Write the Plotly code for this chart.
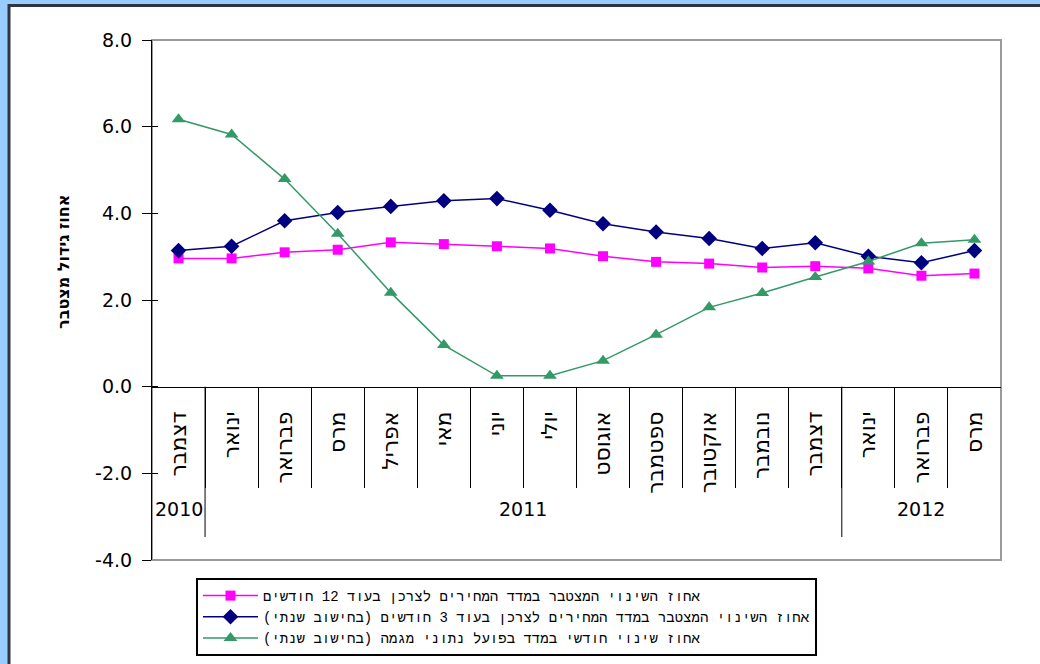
import plotly.graph_objects as go

# Monthly series, December 2010 - March 2012
years = ["2010"] + ["2011"] * 12 + ["2012"] * 3
months = ["דצמבר", "ינואר", "פברואר", "מרס", "אפריל", "מאי", "יוני", "יולי",
          "אוגוסט", "ספטמבר", "אוקטובר", "נובמבר", "דצמבר", "ינואר", "פברואר", "מרס"]

expect_12m = [2.96, 2.96, 3.10, 3.16, 3.33, 3.29, 3.24, 3.19,
              3.01, 2.88, 2.84, 2.75, 2.78, 2.73, 2.56, 2.61]
expect_3m = [3.14, 3.24, 3.83, 4.02, 4.16, 4.29, 4.34, 4.07,
             3.76, 3.57, 3.42, 3.19, 3.32, 3.01, 2.86, 3.14]
actual_monthly = [6.17, 5.82, 4.79, 3.53, 2.17, 0.96, 0.25, 0.25,
                  0.60, 1.20, 1.83, 2.16, 2.53, 2.89, 3.31, 3.39]

series_names = [
    "אחוז השינוי המצטבר במדד המחירים לצרכן בעוד 12 חודשים",
    "אחוז השינוי המצטבר במדד המחירים לצרכן בעוד 3 חודשים (בחישוב שנתי)",
    "אחוז שינוי חודשי במדד בפועל נתוני מגמה (בחישוב שנתי)",
]
y_title = "אחוז גידול מצטבר"
y_ticks = [-4, -2, 0, 2, 4, 6, 8]

# Page geometry (pixels)
W, H = 1040, 664
ML, MR, MT, MB = 152, 39, 40, 104
PW, PH = W - ML - MR, H - MT - MB


def px_x(px):
    return (px - ML) / PW


def px_y(py):
    return (H - MB - py) / PH


FONT = "DejaVu Sans"
LEGEND_FONT = "Liberation Mono, DejaVu Sans"
RLM = "\u200f"

x_idx = list(range(len(months)))
x_range = [-0.5, len(months) - 0.5]

fig = go.Figure()
styles = [
    dict(color="#FF00FF", symbol="square", size=10),
    dict(color="#000080", symbol="diamond", size=12),
    dict(color="#339966", symbol="triangle-up", size=12),
]
for name, vals, st in zip(series_names, [expect_12m, expect_3m, actual_monthly], styles):
    fig.add_trace(go.Scatter(
        x=x_idx, y=vals, name=name + RLM, mode="lines+markers",
        line=dict(color=st["color"], width=1.5),
        marker=dict(symbol=st["symbol"], size=st["size"], color=st["color"],
                    line=dict(width=0)),
        cliponaxis=False,
    ))

y_min, y_max = y_ticks[0], y_ticks[-1]
zero_pos = (0 - y_min) / (y_max - y_min)

# category boundaries: every month edge, and the year changes
month_edges = [i - 0.5 for i in range(1, len(months))]
year_edges = [i - 0.5 for i in range(1, len(years)) if years[i] != years[i - 1]]

fig.update_layout(
    width=W, height=H,
    margin=dict(l=ML, r=MR, t=MT, b=MB, pad=0, autoexpand=False),
    paper_bgcolor="#99CCFF",
    plot_bgcolor="white",
    font=dict(family=FONT, size=19, color="black"),
    showlegend=True,
    legend=dict(
        x=px_x(196), y=px_y(578), xanchor="left", yanchor="top",
        bordercolor="black", borderwidth=2, bgcolor="white",
        font=dict(family=LEGEND_FONT, size=14, color="black"),
        itemwidth=55, tracegroupgap=0,
    ),
    xaxis=dict(
        range=x_range, anchor="free", position=zero_pos,
        tickmode="array", tickvals=x_idx, ticktext=months,
        showline=True, linecolor="black", linewidth=1,
        ticks="", showgrid=False, zeroline=False,
        tickangle=-90, ticklabelstandoff=15,
        tickfont=dict(family=FONT, size=22, color="black"),
    ),
    xaxis2=dict(
        overlaying="x", anchor="free", position=zero_pos,
        range=x_range, tickmode="array", tickvals=month_edges,
        ticks="outside", ticklen=100, tickcolor="black", tickwidth=1,
        showticklabels=False, showline=False, showgrid=False, zeroline=False,
    ),
    yaxis=dict(
        range=[y_min, y_max], tickmode="array", tickvals=y_ticks,
        ticktext=[f"{v:.1f}" for v in y_ticks],
        showline=True, linecolor="black", linewidth=1,
        ticks="outside", ticklen=9, tickcolor="black", tickwidth=1,
        ticklabelstandoff=6,
        showgrid=False, zeroline=False,
        tickfont=dict(family=FONT, size=19, color="black"),
    ),
    yaxis2=dict(
        overlaying="y", anchor="x", side="left",
        range=[y_min, y_max], tickmode="array", tickvals=y_ticks,
        ticks="inside", ticklen=6, tickcolor="black", tickwidth=1,
        showticklabels=False, showline=False, showgrid=False, zeroline=False,
    ),
)

# White chart panel with dark frame, and grey plot-area border
fig.add_shape(type="rect", xref="paper", yref="paper", layer="below",
              x0=px_x(9), x1=px_x(W + 10), y0=px_y(H + 10), y1=px_y(5.5),
              fillcolor="white", line=dict(color="#2e3440", width=3))
fig.add_shape(type="rect", xref="paper", yref="paper", layer="below",
              x0=0, x1=1, y0=0, y1=1,
              fillcolor="rgba(0,0,0,0)", line=dict(color="#9a9a9a", width=2))

# year dividers below the category axis
for xe in year_edges:
    fig.add_shape(type="line", xref="x", yref="paper",
                  x0=xe, x1=xe, y0=zero_pos, y1=px_y(537),
                  line=dict(color="black", width=1))

# year labels centred under their months
for yr in dict.fromkeys(years):
    idx = [i for i, v in enumerate(years) if v == yr]
    fig.add_annotation(text=yr, xref="x", yref="paper",
                       x=sum(idx) / len(idx), y=px_y(522), showarrow=False,
                       font=dict(family=FONT, size=19, color="black"))

fig.add_annotation(
    text=y_title, xref="paper", yref="paper",
    x=px_x(63), y=px_y(262), xanchor="center", yanchor="middle",
    textangle=-90, showarrow=False,
    font=dict(family=FONT, size=16, color="black", weight="bold"),
)

# invisible point so the overlay axes get drawn
fig.add_trace(go.Scatter(x=[0], y=[0], xaxis="x2", yaxis="y2", mode="markers",
                         marker=dict(opacity=0), showlegend=False, hoverinfo="skip"))

fig.write_html("out.html")
